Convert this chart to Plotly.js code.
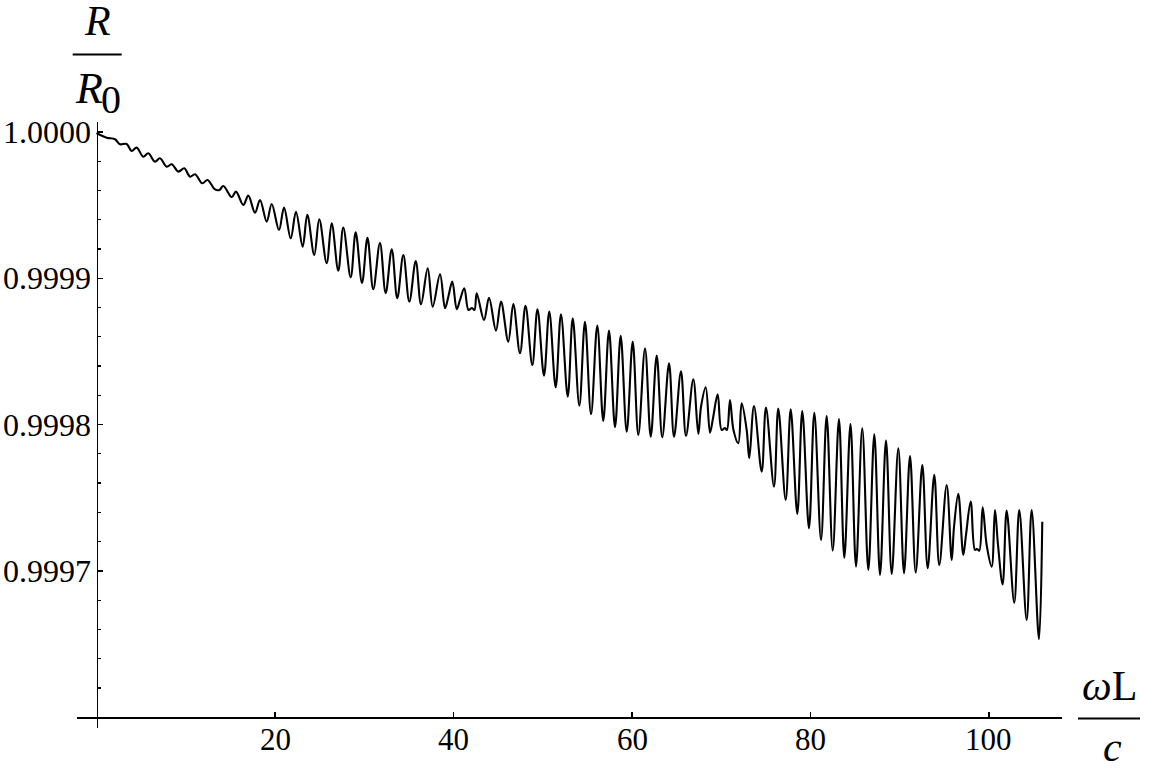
<!DOCTYPE html>
<html>
<head>
<meta charset="utf-8">
<script src="https://cdn.plot.ly/plotly-3.0.1.min.js"></script>
<style>
html,body{margin:0;padding:0;background:#fff;}
#chart{width:1150px;height:772px;}
</style>
</head>
<body>
<div id="chart"></div>
<script>
// omega L / c values (x)
const omegaL = [
  0, 1.14, 2.07, 2.63, 3.38, 3.94, 4.50, 5.24, 5.80, 6.55,
  7.11, 7.87, 8.43, 9.17, 9.84, 10.48, 11.04, 11.85, 12.44, 13.28,
  13.78, 14.21, 15.15, 15.63, 16.45, 17.01, 17.76, 18.32, 19.07, 19.63,
  20.45, 21.01, 21.76, 22.35, 23.10, 23.62, 24.40, 24.96, 25.79, 26.35,
  27.09, 27.65, 28.48, 29.04, 29.75, 30.36, 31.01, 31.76, 32.40, 33.08,
  33.70, 34.38, 35.05, 35.77, 36.36, 37.11, 37.67, 38.49, 39.05, 39.44,
  39.87, 40.36, 40.73, 41.21, 41.68, 42.07, 42.35, 42.60, 43.42, 43.98,
  44.76, 45.32, 46.14, 46.70, 47.45, 48.07, 48.83, 49.41, 50.14, 50.73,
  51.45, 52.04, 52.80, 53.36, 54.10, 54.73, 55.41, 56.11, 56.78, 57.42,
  58.10, 58.73, 59.41, 60.08, 60.71, 61.46, 62.10, 62.77, 63.39, 64.15,
  64.71, 65.49, 66.05, 66.87, 67.43, 67.73, 68.26, 68.74, 69.08, 69.60,
  70.05, 70.42, 70.64, 70.98, 71.37, 71.91, 72.29, 72.85, 73.14,
  73.67, 74.53, 75.01, 75.91, 76.39, 77.22, 77.78, 78.52, 79.08, 79.83,
  80.43, 81.18, 81.81, 82.49, 83.19, 83.79, 84.48, 85.10, 85.80, 86.48,
  87.15, 87.79, 88.46, 89.10, 89.84, 90.48, 91.15, 91.79, 92.53, 93.13,
  93.87, 94.43, 95.26, 95.82, 96.08, 96.56, 97.12, 97.42, 97.95, 98.43,
  98.66, 98.91, 99.29, 99.74, 100.30, 100.67, 101.01, 101.53, 101.98, 102.83,
  103.39, 104.22, 104.78, 105.60, 105.97
];
// R / R0 values (y)
const ratio = [
  0.9999993, 0.9999961, 0.9999950, 0.9999916, 0.9999918, 0.9999870, 0.9999893, 0.9999831, 0.9999854, 0.9999797,
  0.9999820, 0.9999763, 0.9999779, 0.9999729, 0.9999752, 0.9999694, 0.9999711, 0.9999649, 0.9999672, 0.9999607,
  0.9999604, 0.9999631, 0.9999554, 0.9999592, 0.9999501, 0.9999565, 0.9999448, 0.9999535, 0.9999387, 0.9999508,
  0.9999330, 0.9999483, 0.9999273, 0.9999455, 0.9999216, 0.9999433, 0.9999159, 0.9999403, 0.9999103, 0.9999376,
  0.9999052, 0.9999346, 0.9999007, 0.9999314, 0.9998968, 0.9999276, 0.9998925, 0.9999241, 0.9998898, 0.9999198,
  0.9998863, 0.9999159, 0.9998840, 0.9999118, 0.9998822, 0.9999068, 0.9998806, 0.9999027, 0.9998795, 0.9998879,
  0.9998977, 0.9998788, 0.9998852, 0.9998932, 0.9998783, 0.9998797, 0.9998783, 0.9998898, 0.9998715, 0.9998867,
  0.9998642, 0.9998840, 0.9998567, 0.9998824, 0.9998487, 0.9998811, 0.9998407, 0.9998787, 0.9998334, 0.9998772,
  0.9998255, 0.9998754, 0.9998191, 0.9998727, 0.9998129, 0.9998703, 0.9998070, 0.9998676, 0.9998025, 0.9998642,
  0.9997982, 0.9998606, 0.9997952, 0.9998567, 0.9997929, 0.9998522, 0.9997917, 0.9998471, 0.9997913, 0.9998419,
  0.9997917, 0.9998364, 0.9997922, 0.9998310, 0.9997936, 0.9998120, 0.9998255, 0.9997945, 0.9998045, 0.9998207,
  0.9997963, 0.9997977, 0.9997963, 0.9998168, 0.9997963, 0.9997872, 0.9998146, 0.9997963, 0.9997770,
  0.9998127, 0.9997678, 0.9998116, 0.9997576, 0.9998109, 0.9997485, 0.9998105, 0.9997389, 0.9998093, 0.9997291,
  0.9998081, 0.9997211, 0.9998059, 0.9997138, 0.9998038, 0.9997090, 0.9998004, 0.9997029, 0.9997975, 0.9997006,
  0.9997934, 0.9996972, 0.9997890, 0.9996979, 0.9997838, 0.9996984, 0.9997785, 0.9996988, 0.9997724, 0.9997018,
  0.9997656, 0.9997040, 0.9997587, 0.9997075, 0.9997300, 0.9997526, 0.9997109, 0.9997245, 0.9997473, 0.9997143,
  0.9997150, 0.9997138, 0.9997435, 0.9997177, 0.9997029, 0.9997416, 0.9997177, 0.9996908, 0.9997412, 0.9996783,
  0.9997416, 0.9996665, 0.9997416, 0.9996533, 0.9997336
];
const xTickVals = [20, 40, 60, 80, 100];
const xTickText = ['20', '40', '60', '80', '100'];
const yTickVals = [0.9997, 0.9998, 0.9999, 1.0];
const yTickText = ['0.9997', '0.9998', '0.9999', '1.0000'];

const W = 1150, H = 772;
const M = {l: 77, r: 88, t: 122, b: 44};
const xRange = [-2.185, 108.18];
const yRange = [0.9995926, 1.0000068];
const xCross = 0, yCross = 0.9996;
const PW = W - M.l - M.r, PH = H - M.t - M.b;
function px(x) { return (x - M.l) / PW; }
function py(y) { return (H - M.b - y) / PH; }

const serif = 'Liberation Serif, Times New Roman, serif';

const trace = {
  x: omegaL, y: ratio, type: 'scatter', mode: 'lines',
  line: {color: '#000', width: 2.1, shape: 'spline', smoothing: 1},
  hoverinfo: 'skip'
};

// tick labels placed as text beside the axes (Mathematica-style offsets)
const tickLabelAnns = [];
xTickVals.forEach(function (v, i) {
  tickLabelAnns.push({xref: 'x', yref: 'paper', x: v, y: py(739.5), xanchor: 'center', yanchor: 'middle',
    showarrow: false, text: xTickText[i], font: {family: serif, size: 31, color: '#000'}});
});
yTickVals.forEach(function (v, i) {
  tickLabelAnns.push({xref: 'paper', yref: 'y', x: px(92.5), y: v, xanchor: 'right', yanchor: 'middle',
    showarrow: false, text: yTickText[i], font: {family: serif, size: 32, color: '#000'}});
});

const layout = {
  width: W, height: H,
  margin: M,
  paper_bgcolor: '#fff', plot_bgcolor: '#fff',
  showlegend: false,
  xaxis: {
    range: xRange, anchor: 'free',
    position: (yCross - yRange[0]) / (yRange[1] - yRange[0]),
    showgrid: false, zeroline: false,
    showline: true, linecolor: '#000', linewidth: 1.8,
    tickmode: 'array', tickvals: xTickVals, ticktext: xTickText, showticklabels: false,
    ticks: 'inside', ticklen: 5, tickwidth: 1.5, tickcolor: '#000'
  },
  yaxis: {
    range: yRange, anchor: 'free',
    position: (xCross - xRange[0]) / (xRange[1] - xRange[0]),
    showgrid: false, zeroline: false,
    showline: true, linecolor: '#000', linewidth: 1.8,
    tickmode: 'array', tickvals: yTickVals, ticktext: yTickText, showticklabels: false,
    ticks: 'inside', ticklen: 5, tickwidth: 1.5, tickcolor: '#000',
    minor: {tick0: 0.9996, dtick: 0.00002, ticks: 'inside', ticklen: 3, tickwidth: 1.2, tickcolor: '#000', showgrid: false}
  },
  shapes: [
    {type: 'line', xref: 'paper', yref: 'paper', x0: px(72.7), x1: px(121.7), y0: py(54.5), y1: py(54.5), line: {color: '#000', width: 2}},
    {type: 'line', xref: 'paper', yref: 'paper', x0: px(1078), x1: px(1140), y0: py(718.5), y1: py(718.5), line: {color: '#000', width: 2}}
  ],
  annotations: tickLabelAnns.concat([
    {xref: 'paper', yref: 'paper', x: px(97.5), y: py(21), xanchor: 'center', yanchor: 'middle', showarrow: false,
     text: '<i>R</i>', font: {family: serif, size: 42, color: '#000'}},
    {xref: 'paper', yref: 'paper', x: px(89), y: py(88), xanchor: 'center', yanchor: 'middle', showarrow: false,
     text: '<i>R</i>', font: {family: serif, size: 44, color: '#000'}},
    {xref: 'paper', yref: 'paper', x: px(110.5), y: py(99), xanchor: 'center', yanchor: 'middle', showarrow: false,
     text: '0', font: {family: serif, size: 40, color: '#000'}},
    {xref: 'paper', yref: 'paper', x: px(1109), y: py(686), xanchor: 'center', yanchor: 'middle', showarrow: false,
     text: '<i>ω</i>L', font: {family: serif, size: 42, color: '#000'}},
    {xref: 'paper', yref: 'paper', x: px(1112), y: py(747), xanchor: 'center', yanchor: 'middle', showarrow: false,
     text: '<i>c</i>', font: {family: serif, size: 42, color: '#000'}}
  ])
};

Plotly.newPlot('chart', [trace], layout, {displayModeBar: false, staticPlot: true});
</script>
</body>
</html>
